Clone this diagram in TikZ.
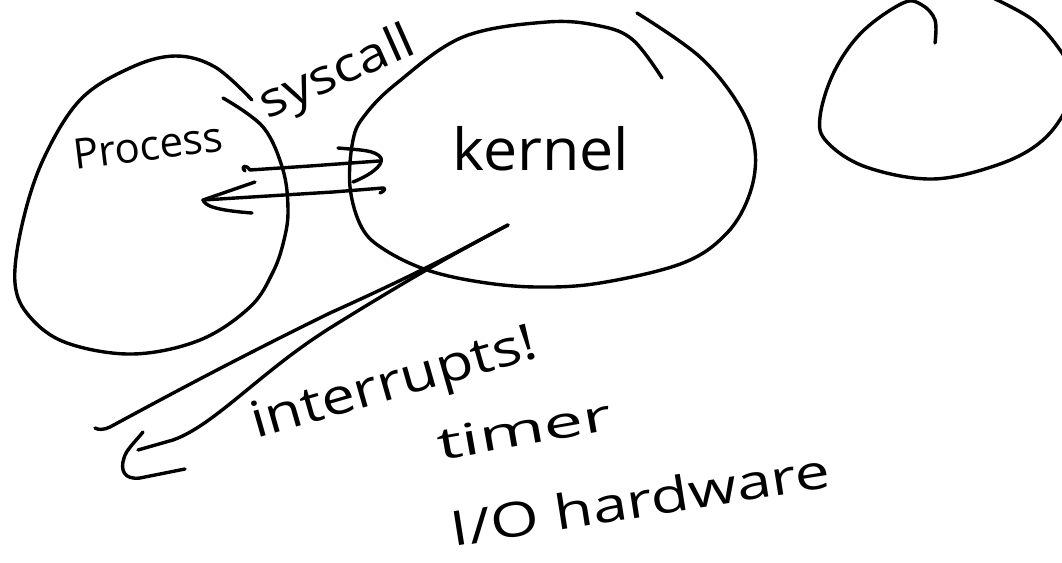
\documentclass[tikz,border=0pt]{standalone}
\usepackage{fontspec}
\setmainfont{Open Sans}
\usepackage{graphicx}
\begin{document}
\begin{tikzpicture}[x=1pt,y=-1pt,
  ink/.style={line width=3.4pt,line cap=round,line join=round},
  hand/.style={inner sep=0pt,anchor=base}]
\useasboundingbox (0,0) rectangle (1062,562);
\clip (0,0) rectangle (1062,562);

% process bubble
\draw[ink] plot[smooth,tension=0.6] coordinates {(252,100) (215,67) (175,56) (130,68) (80,100) (43,160) (22,225) (15,283) (30,317) (67,343) (133,354) (200,340) (250,307) (273,272) (284,240) (288,210) (283,170) (263,127) (223,98)};

% kernel bubble
\draw[ink] plot[smooth,tension=0.6] coordinates {(662,78) (633,40) (600,26) (547,22) (463,37) (397,83) (365,115) (353,140) (350,187) (362,228) (385,250) (427,270) (480,282) (537,287) (600,283) (683,263) (727,233) (750,193) (755,150) (740,107) (700,57) (637,13)};

% third bubble, running off the edge
\draw[ink] plot[smooth,tension=0.6] coordinates {(935,43) (935,20) (922,5) (903,3) (862,32) (834,72) (820,117) (827,142) (866,167) (933,179) (1000,164) (1043,140) (1068,105) (1072,75) (1060,50) (1033,20) (993,-2)};

% labels
\node[hand,rotate=7,font=\fontsize{42}{42}\selectfont] (proc) at (150,160) {Process};
\node[hand,rotate=24,font=\fontsize{48}{48}\selectfont] (sys) at (343,86) {\scalebox{1.15}[1]{syscall}};
\node[hand,font=\fontsize{58}{58}\selectfont] (kern) at (541,170) {\scalebox{1.05}[1]{kernel}};
\node[hand,rotate=16,font=\fontsize{50}{50}\selectfont] (intr) at (398,398) {\scalebox{1.2}[1]{interrupts!}};
\node[hand,rotate=10,font=\fontsize{44}{44}\selectfont] (tmr) at (527,445) {\scalebox{1.6}[1]{timer}};
\node[hand,rotate=9,font=\fontsize{48}{48}\selectfont] (io) at (643,517) {\scalebox{1.3}[1]{I/O hardware}};

% syscall into the kernel
\coordinate (callS) at (245,171);
\coordinate (callE) at (379,161);
\draw[ink] (callS) .. controls (240,166) and (246,164) .. (250,170) -- (310,166) -- (callE);
\draw[ink] (338,148) .. controls (360,150) and (376,150) .. (381,158) .. controls (384,166) and (368,176) .. (353,182);

% return to the process
\coordinate (retS) at (383,188);
\coordinate (retE) at (203,200);
\draw[ink] (380,193) .. controls (385,191) and (386,188) .. (retS) -- (333,192) -- (retE);
\draw[ink] (255,182) -- (retE) .. controls (205,205) and (212,210) .. (252,213);

% interrupts coming out of the kernel
\coordinate (intS) at (508,225);
\draw[ink] (intS) .. controls (470,245) and (430,268) .. (330,313) .. controls (230,362) and (160,400) .. (110,427) .. controls (104,430) and (98,430) .. (95,428);
\draw[ink] (intS) .. controls (470,245) and (420,272) .. (330,328) .. controls (260,372) and (215,425) .. (173,440) -- (138,450);
\draw[ink] (143,432) .. controls (135,442) and (126,450) .. (124,458) .. controls (120,470) and (124,480) .. (140,478) -- (185,469);
\end{tikzpicture}
\end{document}
